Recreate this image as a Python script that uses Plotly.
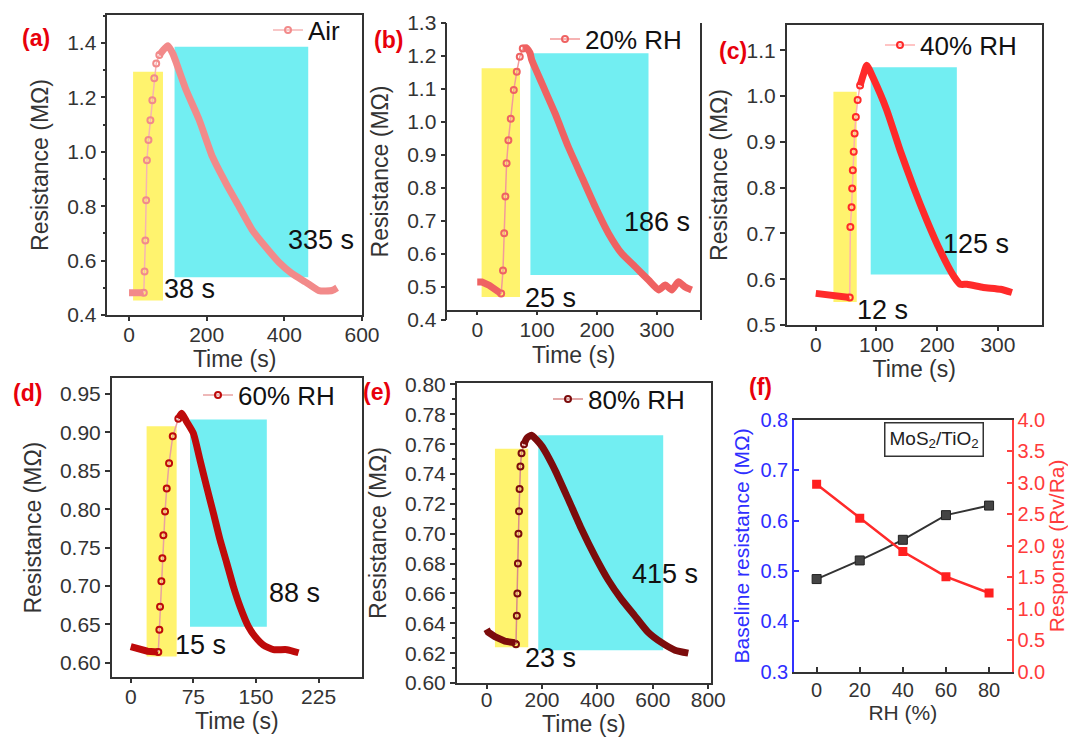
import plotly.graph_objects as go

# ---------------- data ----------------
# (a) Air
A_T = [0, 20, 38, 40, 42, 44, 46, 50, 55, 60, 65, 70, 78, 88, 100, 113, 121, 147, 181, 215,
       250, 284, 318, 352, 386, 420, 455, 489, 523, 536]
A_R = [0.482, 0.482, 0.482, 0.56, 0.674, 0.822, 0.969, 1.043, 1.116, 1.19, 1.27, 1.325, 1.356,
       1.374, 1.39, 1.36, 1.33, 1.227, 1.116, 0.981, 0.883, 0.797, 0.711, 0.65, 0.594, 0.552,
       0.521, 0.49, 0.49, 0.50]
A_RISE = (2, 12)
A_YEL = [10.4, 87.4, 0.453, 1.294]
A_CYAN = [117.2, 461.5, 0.539, 1.386]

# (b) 20% RH
B_T = [0, 8, 20, 30, 40, 43, 45, 47, 49, 52, 56, 61, 66, 71, 76, 82, 88, 91, 108, 130, 152,
       174.5, 197, 219, 241, 264, 286, 303, 314, 325, 336, 347, 358]
B_R = [0.515, 0.515, 0.505, 0.49, 0.48, 0.55, 0.663, 0.774, 0.875, 0.945, 1.01, 1.097, 1.152,
       1.198, 1.223, 1.225, 1.21, 1.188, 1.117, 1.026, 0.925, 0.834, 0.743, 0.663, 0.602, 0.561,
       0.521, 0.491, 0.506, 0.491, 0.516, 0.50, 0.491]
B_RISE = (4, 14)
B_YEL = [7.3, 71.4, 0.47, 1.163]
B_CYAN = [88.8, 286, 0.536, 1.208]

# (c) 40% RH
C_T = [0, 20, 40, 52, 56, 57, 59, 60, 61, 62.5, 64, 66, 69, 73, 78, 84, 95, 117, 139, 161,
       183, 205, 227, 238, 249, 276, 304, 323]
C_R = [0.569, 0.567, 0.563, 0.561, 0.56, 0.714, 0.757, 0.798, 0.838, 0.878, 0.918, 0.954,
       0.991, 1.023, 1.045, 1.067, 1.038, 0.969, 0.881, 0.801, 0.728, 0.662, 0.607, 0.589,
       0.589, 0.582, 0.578, 0.571]
C_RISE = (4, 13)
C_YEL = [29.1, 67.5, 0.55, 1.009]
C_CYAN = [90.5, 232.3, 0.61, 1.063]

# (d) 60% RH
D_T = [0, 10, 20, 33, 34.3, 35.1, 36.7, 37.9, 39.1, 41.1, 43.1, 45.9, 50.3, 57, 61, 67, 75,
       83, 91, 99, 107, 115, 123, 131, 141, 149, 159, 171, 187, 201]
D_R = [0.621, 0.617, 0.615, 0.614, 0.643, 0.673, 0.706, 0.736, 0.766, 0.797, 0.827, 0.860,
       0.895, 0.918, 0.925, 0.914, 0.899, 0.864, 0.829, 0.795, 0.760, 0.730, 0.699, 0.673,
       0.647, 0.634, 0.623, 0.617, 0.617, 0.613]
D_RISE = (3, 13)
D_YEL = [19, 55, 0.608, 0.908]
D_CYAN = [71, 163, 0.647, 0.917]

# (e) 80% RH
E_T = [0, 6, 30, 66, 102, 106, 109, 111, 113, 115, 117, 119, 122, 126, 135, 145, 162, 198,
       246, 295, 343, 391, 439, 487, 535, 583, 632, 680, 728]
E_R = [0.636, 0.634, 0.631, 0.628, 0.627, 0.626, 0.645, 0.66, 0.68, 0.70, 0.715, 0.73, 0.745,
       0.754, 0.760, 0.764, 0.766, 0.759, 0.743, 0.723, 0.703, 0.685, 0.669, 0.656, 0.645,
       0.634, 0.627, 0.622, 0.620]
E_RISE = (5, 14)
E_YEL = [30, 150.3, 0.624, 0.757]
E_CYAN = [186.4, 637.5, 0.622, 0.766]

# (f) summary
RH = [0, 20, 40, 60, 80]
BASELINE = [0.484, 0.521, 0.562, 0.611, 0.630]
RESPONSE = [2.98, 2.44, 1.91, 1.51, 1.25]

# ---------------- helpers ----------------
W, H = 1068, 737
def px(x):
    return x / W
def py(y):
    return 1 - y / H

FONT = "Arial, Liberation Sans, Helvetica, sans-serif"
AX = '#333333'
YEL = '#FFF36E'
CYAN = '#72EEF2'

fig = go.Figure()
shapes = []

def add_panel(n, T, R, rise, color, pale, name, yel, cyan):
    xa = 'x' if n == 1 else f'x{n}'
    ya = 'y' if n == 1 else f'y{n}'
    lg = 'legend' if n == 1 else f'legend{n}'
    i0, i1 = rise
    fig.add_trace(go.Scatter(x=T[:i0 + 1], y=R[:i0 + 1], mode='lines',
                             line=dict(color=color, width=7), xaxis=xa, yaxis=ya,
                             showlegend=False, hoverinfo='skip'))
    fig.add_trace(go.Scatter(x=T[i1:], y=R[i1:], mode='lines',
                             line=dict(color=color, width=7, shape='spline', smoothing=0.5),
                             xaxis=xa, yaxis=ya, showlegend=False, hoverinfo='skip'))
    fig.add_trace(go.Scatter(x=T[i0:i1 + 1], y=R[i0:i1 + 1], mode='lines+markers',
                             line=dict(color=pale, width=1.5),
                             marker=dict(symbol='circle-open', size=6, color=color,
                                         line=dict(width=2, color=color)),
                             xaxis=xa, yaxis=ya, name=name, legend=lg, showlegend=True))
    for box, col in ((yel, YEL), (cyan, CYAN)):
        shapes.append(dict(type='rect', xref=xa, yref=ya, x0=box[0], x1=box[1],
                           y0=box[2], y1=box[3], fillcolor=col, line=dict(width=0),
                           layer='below'))

add_panel(1, A_T, A_R, A_RISE, '#F28A8A', '#F6B4B4', 'Air', A_YEL, A_CYAN)
add_panel(2, B_T, B_R, B_RISE, '#EF6262', '#F39A9A', '20% RH', B_YEL, B_CYAN)
add_panel(3, C_T, C_R, C_RISE, '#FF2A2A', '#FFB0B0', '40% RH', C_YEL, C_CYAN)
add_panel(4, D_T, D_R, D_RISE, '#BE0A0A', '#E9A0A0', '60% RH', D_YEL, D_CYAN)
add_panel(5, E_T, E_R, E_RISE, '#7C0C0C', '#D98A8A', '80% RH', E_YEL, E_CYAN)

fig.add_trace(go.Scatter(x=RH, y=BASELINE, mode='lines+markers', xaxis='x6', yaxis='y6',
                         line=dict(color='#333333', width=2),
                         marker=dict(symbol='square', size=9, color='#444444',
                                     line=dict(color='#222222', width=1)),
                         showlegend=False))
fig.add_trace(go.Scatter(x=RH, y=RESPONSE, mode='lines+markers', xaxis='x6', yaxis='y7',
                         line=dict(color='#FF2A2A', width=2.5),
                         marker=dict(symbol='square', size=9, color='#FF2020'),
                         showlegend=False))

def axis(dom, rng, **kw):
    d = dict(domain=dom, range=rng, showline=True, linecolor=AX, linewidth=1.5, mirror=True,
             ticks='outside', ticklen=5, tickwidth=1.5, tickcolor=AX, showgrid=False,
             zeroline=False, automargin=False,
             tickfont=dict(size=21, color=AX, family=FONT))
    d.update(kw)
    return d

def xaxis(dom, rng, lso=-4, **kw):
    return axis(dom, rng, ticklen=4, ticklabelstandoff=lso, **kw)

TF = dict(size=23, color=AX, family=FONT)
def xt(text):
    return dict(text=text, font=TF, standoff=6)
def yt(text):
    return dict(text=text, font=TF, standoff=12)

# panel boxes in pixels: (left, right, top, bottom)
PA = (107.3, 362, 15, 315)
PB = (447.3, 700, 23, 320)
PC = (786.7, 1041.7, 25, 325)
PD = (111.7, 362, 378, 677.3)
PE = (456.7, 711, 383, 683)
PF = (794, 1011.7, 420, 671.7)

def xd(p):
    return [px(p[0]), px(p[1])]
def yd(p):
    return [py(p[3]), py(p[2])]

layout = dict(
    width=W, height=H, margin=dict(l=0, r=0, t=0, b=0, autoexpand=False),
    paper_bgcolor='white', plot_bgcolor='white',
    font=dict(family=FONT, color=AX),
    xaxis=xaxis(xd(PA), [-56, 600], anchor='y', tickvals=[0, 200, 400, 600], title=xt('Time (s)')),
    yaxis=axis(yd(PA), [0.4, 1.503], anchor='x', tick0=0.4, dtick=0.2, tickformat='.1f',
               minor=dict(ticks='outside', ticklen=3, dtick=0.1, tickcolor=AX),
               title=yt('Resistance (MΩ)')),
    xaxis2=xaxis(xd(PB), [-50, 372], anchor='free', position=py(310.7),
                 tickvals=[0, 100, 200, 300], title=xt('Time (s)')),
    yaxis2=axis(yd(PB), [0.4, 1.3], anchor='x2', tick0=0.4, dtick=0.1, tickformat='.1f',
                title=yt('Resistance (MΩ)')),
    xaxis3=xaxis(xd(PC), [-47.8, 372], anchor='y3', tickvals=[0, 100, 200, 300],
                 title=xt('Time (s)')),
    yaxis3=axis(yd(PC), [0.5, 1.155], anchor='x3', tick0=0.5, dtick=0.1, tickformat='.1f',
                title=yt('Resistance (MΩ)')),
    xaxis4=xaxis(xd(PD), [-22.8, 277], anchor='y4', tickvals=[0, 75, 150, 225],
                 title=xt('Time (s)')),
    yaxis4=axis(yd(PD), [0.581, 0.971], anchor='x4', tick0=0.6, dtick=0.05, tickformat='.2f',
                title=yt('Resistance (MΩ)')),
    xaxis5=xaxis(xd(PE), [-108, 810], lso=-7, anchor='y5', tickvals=[0, 200, 400, 600, 800],
                 title=xt('Time (s)')),
    yaxis5=axis(yd(PE), [0.6, 0.801], anchor='x5', tick0=0.6, dtick=0.02, tickformat='.2f',
                minor=dict(ticks='outside', ticklen=3, dtick=0.01, tickcolor=AX),
                title=yt('Resistance (MΩ)')),
    xaxis6=axis(xd(PF), [-10.5, 90.5], anchor='y6', tickvals=[0, 20, 40, 60, 80],
                ticks='inside', tickfont=dict(size=20, color=AX, family=FONT),
                title=dict(text='RH (%)', font=dict(size=21, color=AX, family=FONT), standoff=4)),
    yaxis6=axis(yd(PF), [0.3, 0.8], anchor='x6', mirror=False, linecolor='#3333FF',
                ticks='inside', tickcolor='#3333FF', tick0=0.3, dtick=0.1, tickformat='.1f',
                tickfont=dict(size=20, color='#2E2EFF', family=FONT),
                title=dict(text='Baseline resistance (MΩ)', standoff=5,
                           font=dict(size=21, color='#2E2EFF', family=FONT))),
    yaxis7=axis(yd(PF), [0, 4], anchor='x6', overlaying='y6', side='right', mirror=False,
                ticks='inside', linecolor='#FF4040', tickcolor='#FF4040', tick0=0, dtick=0.5,
                tickformat='.1f', tickfont=dict(size=20, color='#FF3B3B', family=FONT),
                title=dict(text='Response (Rv/Ra)', standoff=3,
                           font=dict(size=21, color='#FF3B3B', family=FONT))),
    shapes=shapes,
)

# legends (text start x, line y)
LEG = [('legend', 308, 30), ('legend2', 585, 39), ('legend3', 920, 45),
       ('legend4', 238, 395), ('legend5', 588, 399)]
for key, tx, ly in LEG:
    layout[key] = dict(x=px(tx - 40), y=py(ly), xanchor='left', yanchor='middle',
                       bgcolor='rgba(0,0,0,0)', borderwidth=0,
                       font=dict(size=26, color='#111111', family=FONT))

ann = []
LABELS = [('(a)', 36, 38), ('(b)', 388, 40), ('(c)', 733, 51), ('(d)', 27, 393),
          ('(e)', 377, 392), ('(f)', 760, 387)]
for t, x, y in LABELS:
    ann.append(dict(text=f'<b>{t}</b>', x=px(x), y=py(y), xref='paper', yref='paper',
                    showarrow=False, xanchor='center', yanchor='middle',
                    font=dict(size=23, color='#E8000B', family=FONT)))
TIMES = [('38 s', 189, 289), ('335 s', 321, 240), ('25 s', 550, 298), ('186 s', 657, 222),
         ('12 s', 882, 310), ('125 s', 976, 244), ('15 s', 200, 645), ('88 s', 294, 593),
         ('23 s', 550, 658), ('415 s', 665, 574)]
for t, x, y in TIMES:
    ann.append(dict(text=t, x=px(x), y=py(y), xref='paper', yref='paper', showarrow=False,
                    xanchor='center', yanchor='middle',
                    font=dict(size=27, color='#111111', family=FONT)))
ann.append(dict(text='MoS<sub>2</sub>/TiO<sub>2</sub>', x=px(934), y=py(440), xref='paper',
                yref='paper', showarrow=False, xanchor='center', yanchor='middle',
                bordercolor='#333333', borderwidth=1.5, borderpad=4, bgcolor='white',
                font=dict(size=19, color='#222222', family=FONT)))
layout['annotations'] = ann

fig.update_layout(**layout)
fig.write_html('out.html', config={'displayModeBar': False},
               post_script="document.body.style.margin='0px';document.body.style.padding='0px';")
